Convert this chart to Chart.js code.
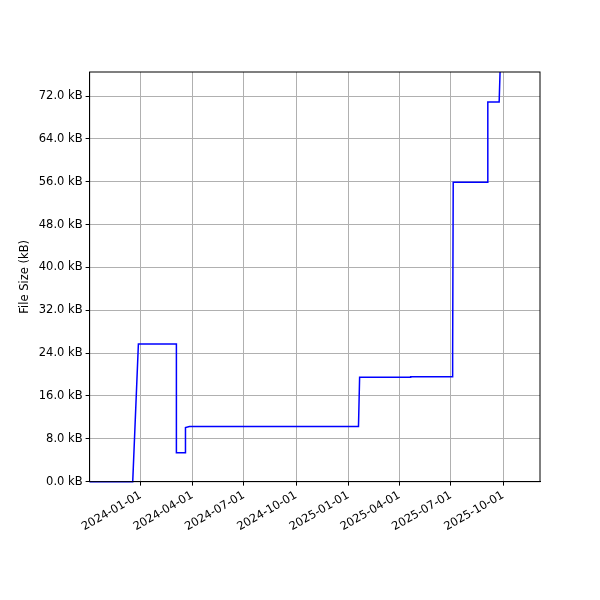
<!DOCTYPE html>
<html><head><script src="https://cdn.jsdelivr.net/npm/chart.js@4"></script>
<style>body{margin:0;background:#fff}#w{width:600px;height:600px}</style></head>
<body><div id="w"><canvas id="c"></canvas></div>
<script>
const dates = ["2023-10-03","2023-12-18","2023-12-28","2024-03-04","2024-03-04","2024-03-20","2024-03-20","2024-03-27","2025-01-19","2025-01-21","2025-04-20","2025-04-21","2025-07-03","2025-07-04","2025-07-05","2025-09-04","2025-09-04","2025-09-24","2025-09-26"];
const sizesKB = [0,0,25.7,25.7,5.4,5.4,10.1,10.3,10.3,19.5,19.5,19.6,19.6,24,55.9,55.9,70.9,70.9,78];
const tickDates = ["2024-01-01","2024-04-01","2024-07-01","2024-10-01","2025-01-01","2025-04-01","2025-07-01","2025-10-01"];
const yTicks = [0,8,16,24,32,40,48,56,64,72];
const ts = d => Date.parse(d+"T00:00:00Z");
const fmt = v => new Date(v).toISOString().slice(0,10);
new Chart(document.getElementById('c'), {
  type:'line',
  data:{datasets:[{data:dates.map((d,i)=>({x:ts(d),y:sizesKB[i]})),borderColor:'#0000ff',borderWidth:1.5,pointRadius:0,tension:0,fill:false,clip:{left:2,top:0,right:2,bottom:3}}]},
  options:{responsive:true,maintainAspectRatio:false,animation:false,
    layout:{padding:{top:72,right:60,bottom:63,left:14}},
    plugins:{legend:{display:false},tooltip:{enabled:false}},
    scales:{
      x:{type:'linear',min:ts("2023-10-03"),max:ts("2025-12-05"),
        afterBuildTicks:a=>{a.ticks=tickDates.map(d=>({value:ts(d)}));},
        ticks:{callback:v=>fmt(v),maxRotation:30,minRotation:30,color:'#000',font:{family:'DejaVu Sans',size:11.5}},
        grid:{color:'#b0b0b0',tickColor:'#000',tickLength:4},border:{color:'#000'}},
      y:{min:0,max:76.5,
        afterBuildTicks:a=>{a.ticks=yTicks.map(v=>({value:v}));},
        ticks:{callback:v=>v.toFixed(1)+' kB',color:'#000',font:{family:'DejaVu Sans',size:11.5}},
        grid:{color:'#b0b0b0',tickColor:'#000',tickLength:4},border:{color:'#000'},
        title:{display:true,text:'File Size (kB)',color:'#000',font:{family:'DejaVu Sans',size:11.5}}}
    }},
  plugins:[{id:'box',afterDraw(c){const a=c.chartArea,x=c.ctx;x.save();x.strokeStyle='#000';x.lineWidth=1;x.strokeRect(a.left,a.top,a.width,a.height);x.restore();}}]
});
</script></body></html>
